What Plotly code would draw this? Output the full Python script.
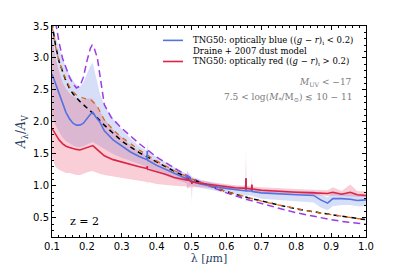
import plotly.graph_objects as go

# ---- Draine+2007 model (smooth, black dashed) ----
lam_d = [0.10, 0.11, 0.12, 0.13, 0.14, 0.15, 0.16, 0.18, 0.20, 0.22, 0.25, 0.28, 0.30, 0.35,
         0.40, 0.45, 0.50, 0.55, 0.60, 0.65, 0.70, 0.75, 0.80, 0.85, 0.90, 0.95, 1.00]
draine_black = [3.55, 3.20, 2.95, 2.78, 2.64, 2.53, 2.44, 2.32, 2.22, 2.12, 1.95, 1.80, 1.70, 1.52,
                1.37, 1.23, 1.10, 1.00, 0.91, 0.83, 0.76, 0.70, 0.64, 0.59, 0.55, 0.51, 0.47]

# ---- Draine with 2175A bump (orange dashed) ----
lam_o = [0.10, 0.11, 0.12, 0.13, 0.14, 0.15, 0.16, 0.17, 0.18, 0.19, 0.20, 0.21, 0.22, 0.23,
         0.25, 0.28, 0.30, 0.35, 0.40, 0.45, 0.50, 0.55, 0.60, 0.65, 0.70, 0.75, 0.80, 0.85,
         0.90, 0.95, 1.00]
draine_orange = [3.50, 3.18, 2.95, 2.80, 2.66, 2.55, 2.47, 2.42, 2.39, 2.37, 2.36, 2.35, 2.30, 2.24,
                 2.03, 1.85, 1.76, 1.56, 1.39, 1.24, 1.11, 1.00, 0.91, 0.83, 0.76, 0.70, 0.64, 0.59,
                 0.55, 0.51, 0.47]

# ---- purple dashed curve ----
lam_p = [0.10, 0.11, 0.12, 0.13, 0.14, 0.15, 0.16, 0.17, 0.18, 0.19, 0.20, 0.21, 0.215, 0.22,
         0.23, 0.24, 0.25, 0.27, 0.30, 0.35, 0.40, 0.45, 0.50, 0.55, 0.60, 0.65, 0.70, 0.75,
         0.80, 0.85, 0.90, 0.95, 1.00]
purple = [3.90, 3.55, 3.25, 3.00, 2.85, 2.70, 2.60, 2.53, 2.56, 2.70, 2.95, 3.15, 3.20, 3.17,
          3.00, 2.60, 2.27, 2.07, 1.90, 1.66, 1.45, 1.28, 1.12, 1.00, 0.89, 0.80, 0.72, 0.65,
          0.58, 0.52, 0.47, 0.43, 0.40]

# ---- TNG50 spectra (median and spread) ----
lam_s = [0.100, 0.110, 0.120, 0.130, 0.140, 0.150, 0.160, 0.170, 0.180, 0.190, 0.200, 0.210,
         0.217, 0.225, 0.237, 0.250, 0.275, 0.300, 0.325, 0.350, 0.372, 0.373, 0.374, 0.400,
         0.425, 0.450, 0.486, 0.487, 0.500, 0.501, 0.502, 0.525, 0.550, 0.575, 0.600, 0.625,
         0.655, 0.656, 0.657, 0.672, 0.673, 0.674, 0.700, 0.750, 0.800, 0.850, 0.870, 0.890,
         0.905, 0.930, 0.955, 0.975, 1.000]
blue_med = [2.75, 2.60, 2.45, 2.30, 2.15, 2.05, 1.98, 1.95, 1.95, 1.98, 2.05, 2.12,
            2.15, 2.08, 2.00, 1.86, 1.72, 1.62, 1.53, 1.46, 1.41, 1.55, 1.40, 1.32,
            1.26, 1.19, 1.11, 1.16, 1.08, 1.05, 1.07, 1.03, 1.00, 0.98, 0.96, 0.94,
            0.92, 1.12, 0.92, 0.92, 1.00, 0.91, 0.89, 0.87, 0.86, 0.85, 0.78, 0.73,
            0.80, 0.80, 0.79, 0.77, 0.78]
blue_lo = [2.10, 1.95, 1.85, 1.76, 1.70, 1.66, 1.63, 1.61, 1.60, 1.62, 1.65, 1.68,
           1.69, 1.66, 1.62, 1.57, 1.50, 1.44, 1.39, 1.34, 1.30, 1.20, 1.29, 1.22,
           1.16, 1.11, 1.04, 0.98, 1.01, 0.80, 1.00, 0.97, 0.94, 0.91, 0.89, 0.87,
           0.85, 0.70, 0.85, 0.85, 0.82, 0.84, 0.80, 0.78, 0.76, 0.74, 0.66, 0.62,
           0.68, 0.70, 0.70, 0.68, 0.68]
blue_hi = [3.50, 3.35, 3.15, 3.00, 2.85, 2.75, 2.65, 2.58, 2.55, 2.62, 2.75, 2.88,
           2.92, 2.75, 2.45, 2.25, 2.05, 1.88, 1.74, 1.62, 1.55, 1.75, 1.54, 1.45,
           1.37, 1.29, 1.19, 1.24, 1.15, 1.12, 1.14, 1.10, 1.06, 1.03, 1.01, 0.99,
           0.98, 1.40, 0.98, 0.97, 1.10, 0.97, 0.95, 0.93, 0.92, 0.92, 0.86, 0.82,
           0.90, 0.89, 0.88, 0.86, 0.87]
red_med = [1.90, 1.80, 1.72, 1.66, 1.62, 1.60, 1.58, 1.57, 1.56, 1.58, 1.60, 1.62,
           1.63, 1.59, 1.53, 1.47, 1.41, 1.37, 1.33, 1.30, 1.27, 1.31, 1.26, 1.22,
           1.18, 1.13, 1.09, 1.11, 1.06, 1.03, 1.06, 1.04, 1.02, 1.00, 0.98, 0.97,
           0.96, 1.12, 0.96, 0.95, 1.02, 0.95, 0.93, 0.91, 0.90, 0.89, 0.88, 0.88,
           0.90, 0.87, 0.90, 0.86, 0.85]
red_lo = [1.45, 1.30, 1.25, 1.22, 1.20, 1.20, 1.18, 1.17, 1.17, 1.19, 1.21, 1.23,
          1.23, 1.21, 1.19, 1.17, 1.15, 1.13, 1.10, 1.08, 1.06, 1.02, 1.06, 1.03,
          1.01, 1.00, 0.99, 0.96, 0.98, 0.72, 0.98, 0.98, 0.97, 0.95, 0.94, 0.93,
          0.92, 1.00, 0.92, 0.91, 0.93, 0.91, 0.89, 0.88, 0.87, 0.86, 0.85, 0.84,
          0.85, 0.84, 0.84, 0.83, 0.82]
red_hi = [3.30, 3.00, 2.80, 2.62, 2.52, 2.45, 2.40, 2.37, 2.35, 2.35, 2.36, 2.37,
          2.36, 2.28, 2.18, 2.05, 1.88, 1.76, 1.64, 1.54, 1.47, 1.62, 1.46, 1.38,
          1.30, 1.23, 1.15, 1.20, 1.12, 1.10, 1.12, 1.08, 1.06, 1.04, 1.03, 1.01,
          1.00, 1.62, 1.00, 0.99, 1.22, 0.99, 0.98, 0.96, 0.95, 0.94, 0.93, 0.93,
          0.98, 0.92, 1.02, 0.92, 0.91]

x_ticks = [0.1, 0.2, 0.3, 0.4, 0.5, 0.6, 0.7, 0.8, 0.9, 1.0]
y_ticks = [0.5, 1.0, 1.5, 2.0, 2.5, 3.0, 3.5]

BLUE = "#5472e0"
RED = "#dc2448"
SERIF = "DejaVu Serif"

fig = go.Figure()

# blue spread
fig.add_trace(go.Scatter(x=lam_s, y=blue_lo, mode="lines", line=dict(width=0),
                         showlegend=False, hoverinfo="skip"))
fig.add_trace(go.Scatter(x=lam_s, y=blue_hi, mode="lines", line=dict(width=0),
                         fill="tonexty", fillcolor="rgba(110,140,230,0.28)",
                         showlegend=False, hoverinfo="skip"))
# red spread
fig.add_trace(go.Scatter(x=lam_s, y=red_lo, mode="lines", line=dict(width=0),
                         showlegend=False, hoverinfo="skip"))
fig.add_trace(go.Scatter(x=lam_s, y=red_hi, mode="lines", line=dict(width=0),
                         fill="tonexty", fillcolor="rgba(235,80,110,0.28)",
                         showlegend=False, hoverinfo="skip"))
# model curves
fig.add_trace(go.Scatter(x=lam_p, y=purple, mode="lines",
                         line=dict(color="#9b3be8", width=1.5, dash="7px,4px"),
                         showlegend=False))
fig.add_trace(go.Scatter(x=lam_d, y=draine_black, mode="lines",
                         line=dict(color="black", width=1.5, dash="5px,4px"),
                         showlegend=False))
fig.add_trace(go.Scatter(x=lam_o, y=draine_orange, mode="lines",
                         line=dict(color="#d2691e", width=1.3, dash="5px,5px"),
                         showlegend=False))
# medians
fig.add_trace(go.Scatter(x=lam_s, y=blue_med, mode="lines",
                         line=dict(color=BLUE, width=1.6), showlegend=False))
fig.add_trace(go.Scatter(x=lam_s, y=red_med, mode="lines",
                         line=dict(color=RED, width=1.6), showlegend=False))

# plot area in pixels: x 44..358, y 13..233
def px(x):
    return (x - 44) / 314.0

def py(y):
    return (233 - y) / 220.0

shapes = [
    dict(type="line", xref="paper", yref="paper", x0=px(155), x1=px(175), y0=py(28), y1=py(28),
         line=dict(color=BLUE, width=1.6)),
    dict(type="line", xref="paper", yref="paper", x0=px(155), x1=px(175), y0=py(50), y1=py(50),
         line=dict(color=RED, width=1.6)),
]

legend_texts = [
    ("TNG50: optically blue ((<i>g</i> − <i>r</i>)<sub>i</sub> &lt; 0.2)", 28),
    ("Draine + 2007 dust model", 39),
    ("TNG50: optically red ((<i>g</i> − <i>r</i>)<sub>i</sub> &gt; 0.2)", 50),
]
annotations = []
for txt, yy in legend_texts:
    annotations.append(dict(text=txt, xref="paper", yref="paper", x=px(183), y=py(yy),
                            xanchor="left", yanchor="middle", showarrow=False,
                            font=dict(family=SERIF, size=8.5, color="black")))
annotations.append(dict(text="<i>M</i><sub>UV</sub> &lt; −17", xref="paper", yref="paper",
                        x=px(346), y=py(72), xanchor="right", yanchor="middle", showarrow=False,
                        font=dict(family=SERIF, size=9, color="#7a7a7a")))
annotations.append(dict(text="7.5 &lt; log(<i>M</i><sub>*</sub>/M<sub>⊙</sub>) ≲ 10 − 11",
                        xref="paper", yref="paper",
                        x=px(346), y=py(88), xanchor="right", yanchor="middle", showarrow=False,
                        font=dict(family=SERIF, size=9, color="#7a7a7a")))
annotations.append(dict(text="z = 2", xref="paper", yref="paper", x=px(60), y=py(217),
                        xanchor="left", yanchor="middle", showarrow=False,
                        font=dict(family=SERIF, size=11, color="black")))

axis_common = dict(showline=True, linecolor="black", linewidth=1, mirror="ticks",
                   ticks="inside", ticklen=4, tickwidth=1, tickcolor="black",
                   showgrid=False, zeroline=False,
                   tickfont=dict(family="DejaVu Sans", size=10, color="black"))

fig.update_layout(
    width=399, height=266,
    margin=dict(l=44, r=41, t=13, b=33),
    plot_bgcolor="white", paper_bgcolor="white",
    showlegend=False,
    shapes=shapes, annotations=annotations,
    xaxis=dict(range=[0.1, 1.0], tickvals=x_ticks, ticktext=[f"{v:.1f}" for v in x_ticks],
               title=dict(text="λ [<i>μ</i>m]", font=dict(family=SERIF, size=11), standoff=2),
               minor=dict(dtick=0.02, ticks="inside", ticklen=2, tickcolor="black"),
               **axis_common),
    yaxis=dict(range=[0.2, 3.5], tickvals=y_ticks, ticktext=[f"{v:.1f}" for v in y_ticks],
               title=dict(text="<i>A</i><sub>λ</sub>/<i>A</i><sub>V</sub>",
                          font=dict(family=SERIF, size=12), standoff=4),
               minor=dict(dtick=0.1, ticks="inside", ticklen=2, tickcolor="black"),
               **axis_common),
)

fig.write_html("out.html")
